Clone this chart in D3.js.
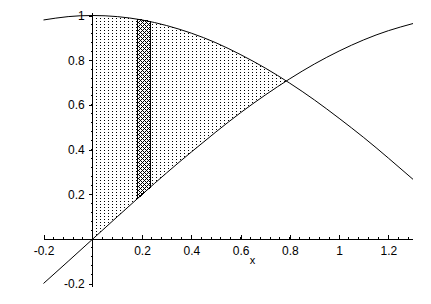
<!DOCTYPE html>
<html>
<head>
<meta charset="utf-8">
<script src="https://cdn.jsdelivr.net/npm/d3@7"></script>
<style>
  body { margin: 0; background: #fff; }
  svg { display: block; }
  text { font-family: "Liberation Sans", Arial, sans-serif; font-size: 12px; fill: #000; }
</style>
</head>
<body>
<div id="chart"></div>
<script>
// curves
const curveX = [-0.2, -0.1, 0, 0.1, 0.2, 0.3, 0.4, 0.5, 0.6, 0.7, 0.8, 0.9, 1.0, 1.1, 1.2, 1.3];
const cosY   = [0.980, 0.995, 1, 0.995, 0.980, 0.955, 0.921, 0.878, 0.825, 0.765, 0.697, 0.622, 0.540, 0.454, 0.362, 0.267];
const sinY   = [-0.199, -0.100, 0, 0.100, 0.199, 0.296, 0.389, 0.479, 0.565, 0.644, 0.717, 0.783, 0.841, 0.891, 0.932, 0.964];

// dotted region between the curves, 0 .. crossing
const regionX      = [0, 0.1, 0.2, 0.3, 0.4, 0.5, 0.6, 0.7, 0.785];
const regionTop    = [1, 0.995, 0.980, 0.955, 0.921, 0.878, 0.825, 0.765, 0.707];
const regionBottom = [0, 0.100, 0.199, 0.296, 0.389, 0.479, 0.565, 0.644, 0.707];

// the darker strip
const stripX      = [0.18, 0.208, 0.235];
const stripTop    = [0.984, 0.978, 0.973];
const stripBottom = [0.179, 0.207, 0.233];

const xTicks = [-0.2, 0.2, 0.4, 0.6, 0.8, 1, 1.2];
const yTicks = [-0.2, 0.2, 0.4, 0.6, 0.8, 1];
const xLabel = "x";

const width = 431, height = 304;

const x = d3.scaleLinear().domain([-0.2, 1.3]).range([43.5, 413]);
const y = d3.scaleLinear().domain([-0.2, 1]).range([283.7, 15.5]);

const svg = d3.select("#chart").append("svg")
    .attr("width", width)
    .attr("height", height);

svg.append("rect").attr("width", width).attr("height", height).attr("fill", "#fff");

const defs = svg.append("defs");
const dots = defs.append("pattern")
    .attr("id", "dots")
    .attr("patternUnits", "userSpaceOnUse")
    .attr("width", 4).attr("height", 3);
dots.append("rect").attr("x", 0).attr("y", 0).attr("width", 1).attr("height", 1).attr("fill", "#000");

const hatch = defs.append("pattern")
    .attr("id", "hatch")
    .attr("patternUnits", "userSpaceOnUse")
    .attr("width", 4).attr("height", 4);
[[0,0],[1,1],[2,2],[3,3],[1,3],[3,1]].forEach(p => {
    hatch.append("rect").attr("x", p[0]).attr("y", p[1]).attr("width", 1).attr("height", 1).attr("fill", "#000");
});

const fmt = d => String(d);

// shaded region
const region = regionX.map((v, i) => [v, regionTop[i], regionBottom[i]]);
svg.append("path")
    .datum(region)
    .attr("fill", "url(#dots)")
    .attr("d", d3.area()
        .x(d => x(d[0]))
        .y0(d => y(d[2]))
        .y1(d => y(d[1]))
        .curve(d3.curveNatural));

// strip
const strip = stripX.map((v, i) => [v, stripTop[i], stripBottom[i]]);
const stripArea = d3.area()
    .x(d => x(d[0]))
    .y0(d => y(d[2]))
    .y1(d => y(d[1]));
svg.append("path")
    .datum(strip)
    .attr("fill", "#fff")
    .attr("d", stripArea);
svg.append("path")
    .datum(strip)
    .attr("fill", "url(#hatch)")
    .attr("stroke", "#000")
    .attr("stroke-width", 1)
    .attr("shape-rendering", "crispEdges")
    .attr("d", stripArea);

// axes
const xAxis = svg.append("g")
    .attr("transform", `translate(0,${y(0)})`)
    .attr("shape-rendering", "crispEdges")
    .call(d3.axisBottom(x)
        .tickValues(xTicks)
        .tickSizeInner(-4)
        .tickSizeOuter(0)
        .tickPadding(7)
        .tickFormat(fmt));
xAxis.select(".domain").remove();
xAxis.append("line")
    .attr("x1", x(-0.2)).attr("x2", x(1.3))
    .attr("stroke", "#000");
xAxis.selectAll(".minor")
    .data(d3.range(-5, 33).map(i => +(i * 0.04).toFixed(2)).filter(v => v > -0.2 && v < 1.3))
    .join("line")
    .attr("class", "minor")
    .attr("x1", d => x(d)).attr("x2", d => x(d))
    .attr("y1", 0).attr("y2", -2)
    .attr("stroke", "#000");

const yAxis = svg.append("g")
    .attr("transform", `translate(${x(0)},0)`)
    .attr("shape-rendering", "crispEdges")
    .call(d3.axisLeft(y)
        .tickValues(yTicks)
        .tickSize(4)
        .tickSizeOuter(0)
        .tickPadding(4)
        .tickFormat(fmt));
yAxis.select(".domain").remove();
yAxis.append("line")
    .attr("y1", y(-0.215)).attr("y2", y(1.01))
    .attr("stroke", "#000");
yAxis.selectAll(".minor")
    .data(d3.range(-5, 26).map(i => +(i * 0.04).toFixed(2)).filter(v => v > -0.2 && v < 1))
    .join("line")
    .attr("class", "minor")
    .attr("y1", d => y(d)).attr("y2", d => y(d))
    .attr("x1", 0).attr("x2", -2)
    .attr("stroke", "#000");

svg.selectAll(".tick text")
    .style("font-family", "\"Liberation Sans\", Arial, sans-serif")
    .style("font-size", "12px");

// curves
const line = d3.line()
    .x(d => x(d[0]))
    .y(d => y(d[1]))
    .curve(d3.curveNatural);

svg.append("path")
    .datum(curveX.map((v, i) => [v, cosY[i]]))
    .attr("fill", "none")
    .attr("stroke", "#000")
    .attr("stroke-width", 1)
    .attr("d", line);

svg.append("path")
    .datum(curveX.map((v, i) => [v, sinY[i]]))
    .attr("fill", "none")
    .attr("stroke", "#000")
    .attr("stroke-width", 1)
    .attr("d", line);

svg.append("text")
    .attr("x", 252.5)
    .attr("y", 264)
    .attr("text-anchor", "middle")
    .style("font-size", "11px")
    .text(xLabel);
</script>
</body>
</html>
